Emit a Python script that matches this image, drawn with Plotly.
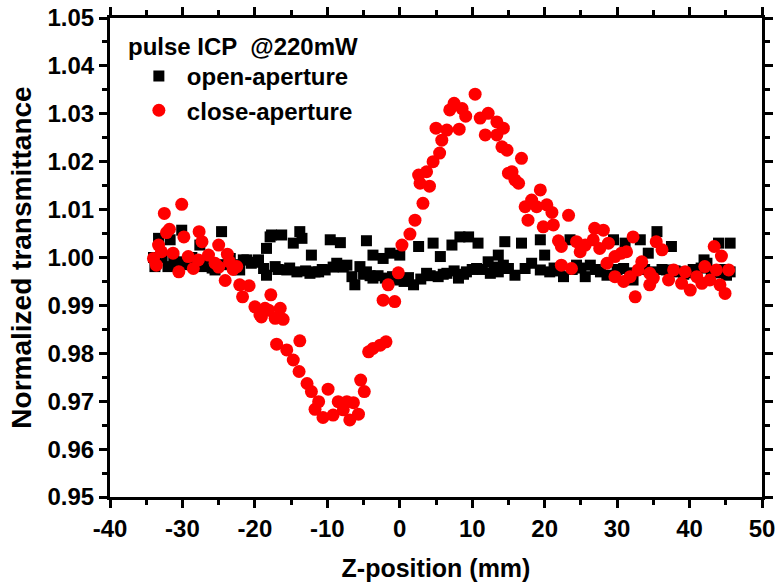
import plotly.graph_objects as go

# open-aperture (black squares)
open_z = [-34.0, -33.8, -33.3, -32.8, -32.0, -31.7, -31.2, -30.6, -30.1, -29.9, -29.3, -28.7,
          -28.2, -27.6, -27.1, -26.5, -25.9, -25.5, -24.6, -24.2, -23.4, -22.8, -22.1, -21.6,
          -21.1, -20.5, -19.9, -19.5, -18.8, -18.4, -18.4, -17.9, -17.7, -17.2, -16.8, -16.3,
          -15.6, -15.2, -14.7, -14.2, -13.8, -13.5, -13.0, -12.4, -12.2, -11.7, -11.2, -10.7,
          -10.3, -9.6, -9.2, -8.7, -8.2, -7.8, -7.3, -6.6, -6.2, -5.5, -5.0, -4.6, -4.6, -4.1,
          -3.7, -3.7, -3.0, -2.3, -2.0, -1.35, -1.0, -0.5, 0.0, 0.0, 0.6, 1.2, 1.9, 2.6, 2.9,
          3.7, 4.2, 4.6, 5.3, 5.6, 6.0, 6.5, 7.2, 7.5, 8.1, 8.3, 8.8, 9.2, 9.5, 10.0, 10.6, 10.8,
          11.4, 12.2, 12.5, 13.0, 13.6, 13.6, 14.3, 14.5, 15.0, 15.9, 16.8, 17.3, 18.2, 19.4,
          19.4, 20.0, 20.7, 21.3, 22.0, 22.6, 23.5, 23.8, 24.4, 25.0, 25.6, 26.3, 27.0, 27.7,
          28.6, 29.5, 30.0, 30.9, 31.1, 31.8, 32.2, 33.2, 33.8, 34.3, 35.0, 35.5, 36.2, 36.8,
          37.5, 38.0, 38.5, 39.2, 40.0, 40.5, 41.0, 41.6, 42.0, 42.4, 43.0, 43.6, 44.0, 44.5,
          45.1, 45.6, 45.6]
open_t = [1.0000, 0.9981, 1.0040, 1.0000, 0.9981, 1.0037, 0.9995, 0.9985, 1.0057, 0.9991, 0.9985, 1.0000,
          0.9990, 1.0026, 0.9981, 0.9988, 0.9978, 0.9974, 1.0054, 0.9985, 0.9998, 0.9985, 0.9974, 0.9995,
          0.9995, 0.9988, 0.9990, 0.9995, 0.9977, 1.0019, 0.9963, 1.0043, 1.0047, 0.9981, 0.9975, 1.0047,
          0.9974, 0.9978, 1.0030, 0.9970, 1.0054, 1.0040, 0.9972, 0.9967, 1.0005, 0.9970, 0.9970, 0.9975,
          0.9974, 1.0037, 0.9980, 0.9988, 1.0031, 0.9980, 0.9984, 0.9960, 0.9943, 0.9981, 0.9965, 1.0035, 0.9970, 0.9962,
          1.0005, 0.9957, 0.9962, 0.9998, 0.9957, 1.0009, 0.9960, 0.9955, 1.0005, 0.9953, 0.9950, 0.9958, 0.9943, 1.0023, 0.9955,
          0.9967, 0.9962, 1.0030, 0.9960, 1.0002, 0.9965, 0.9967, 1.0026, 0.9972, 0.9957, 1.0043, 0.9965, 0.9970, 1.0043, 0.9975, 0.9977, 1.0030,
          0.9975, 0.9991, 0.9967, 0.9980, 1.0005, 0.9970, 0.9984, 1.0033, 0.9977, 0.9963, 1.0030, 0.9977, 0.9988, 1.0037,
          0.9974, 1.0005, 0.9970, 0.9978, 0.9972, 0.9960, 1.0037, 0.9975, 0.9984, 0.9978, 0.9960, 0.9984, 0.9975, 0.9970,
          0.9963, 1.0037, 0.9975, 0.9977, 1.0030, 0.9968, 0.9953, 1.0037, 0.9975, 1.0009, 0.9970, 1.0054, 0.9975, 0.9974,
          1.0023, 0.9972, 0.9970, 0.9965, 0.9968, 0.9975, 0.9970, 0.9978, 0.9995, 0.9988, 0.9972, 0.9968, 1.0030, 0.9975,
          0.9963, 1.0030, 0.9970]

# close-aperture (red circles)
close_z = [-34.0, -33.6, -33.3, -32.9, -32.5, -32.2, -31.8, -31.3, -30.5, -30.1, -29.8, -29.2,
           -28.5, -27.8, -27.7, -27.3, -26.4, -25.5, -25.0, -25.0, -24.1, -23.8, -23.5, -23.0,
           -22.5, -22.1, -21.7, -20.8, -20.0, -19.3, -19.1, -18.6, -18.1, -17.8, -17.2, -17.0,
           -16.5, -16.1, -15.6, -14.7, -13.9, -13.8, -12.8, -12.2, -11.7, -11.2, -10.6, -9.9,
           -9.2, -8.5, -7.8, -7.3, -6.9, -6.4, -5.7, -5.4, -4.9, -4.3, -3.7, -2.7, -2.3, -1.9,
           -1.6, -0.7, -0.2, 0.3, 1.4, 2.1, 2.6, 2.8, 3.2, 3.7, 4.1, 4.6, 5.0, 5.5, 5.8, 6.5,
           6.9, 7.5, 8.2, 8.6, 9.1, 10.4, 11.1, 11.8, 12.2, 13.4, 13.4, 14.1, 14.3, 14.8, 15.0,
           15.5, 15.9, 16.4, 16.8, 17.3, 17.7, 18.2, 18.9, 19.4, 19.8, 20.3, 21.0, 21.2, 21.9,
           22.3, 22.3, 23.3, 23.7, 24.4, 24.9, 25.6, 26.7, 26.9, 27.6, 28.1, 28.6, 28.8, 29.7,
           29.7, 30.6, 30.9, 31.3, 31.8, 32.2, 32.5, 32.9, 33.4, 34.5, 34.5, 35.0, 35.4, 36.2,
           37.1, 37.8, 38.9, 39.4, 40.1, 41.0, 41.7, 42.1, 42.8, 43.4, 43.7, 44.2, 44.4, 44.9, 45.4]
close_t = [0.9998, 0.9984, 1.0026, 1.0012, 1.0092, 1.0052, 1.0059, 1.0009, 0.9970, 1.0111, 1.0043, 1.0002,
           0.9977, 0.9995, 1.0054, 1.0033, 1.0005, 0.9988, 1.0026, 0.9980, 0.9952, 1.0007, 0.9991, 0.9975,
           0.9981, 0.9943, 0.9918, 0.9941, 0.9897, 0.9880, 0.9876, 0.9894, 0.9890, 0.9922, 0.9873, 0.9819,
           0.9894, 0.9871, 0.9807, 0.9786, 0.9762, 0.9826, 0.9737, 0.9720, 0.9683, 0.9699, 0.9666, 0.9725,
           0.9671, 0.9699, 0.9682, 0.9699, 0.9661, 0.9697, 0.9673, 0.9744, 0.9720, 0.9803, 0.9810, 0.9817, 0.9911, 0.9824,
           0.9943, 0.9908, 0.9968, 1.0026, 1.0049, 1.0078, 1.0172, 1.0155, 1.0113, 1.0179, 1.0149, 1.0200, 1.0270, 1.0218, 1.0245, 1.0266,
           1.0308, 1.0322, 1.0268, 1.0311, 1.0295, 1.0341, 1.0291, 1.0256, 1.0301, 1.0283, 1.0256, 1.0231, 1.0270, 1.0224, 1.0176,
           1.0179, 1.0162, 1.0155, 1.0207, 1.0106, 1.0078, 1.0120, 1.0106, 1.0141, 1.0064, 1.0110, 1.0094, 1.0068, 1.0035,
           1.0023, 0.9984, 1.0088, 0.9977, 1.0033, 1.0012, 1.0026, 1.0037, 1.0061, 1.0019, 1.0057, 0.9988, 1.0030, 1.0002,
           0.9960, 1.0009, 0.9950, 1.0012, 0.9960, 1.0043, 0.9918, 0.9974, 0.9991, 0.9967, 0.9943, 0.9957, 1.0033, 1.0016,
           0.9953, 0.9974, 0.9946, 0.9970, 0.9932, 0.9960, 0.9946, 0.9981, 0.9953, 1.0023, 0.9974, 0.9943, 1.0003, 0.9925, 0.9974]

x_ticks = [-40, -30, -20, -10, 0, 10, 20, 30, 40, 50]
y_ticks = [0.95, 0.96, 0.97, 0.98, 0.99, 1.00, 1.01, 1.02, 1.03, 1.04, 1.05]

FONT = "Liberation Sans, Arial, sans-serif"

fig = go.Figure()
fig.add_trace(go.Scatter(
    x=open_z, y=open_t, mode="markers", name="open-aperture",
    marker=dict(symbol="square", size=11, color="black", line=dict(width=0)),
))
fig.add_trace(go.Scatter(
    x=close_z, y=close_t, mode="markers", name="close-aperture",
    marker=dict(symbol="circle", size=13, color="#ff0000", line=dict(width=0)),
))

axis_common = dict(
    showline=True, linecolor="black", linewidth=3, mirror="ticks",
    ticks="outside", ticklen=8, tickwidth=2.5, tickcolor="black",
    showgrid=False, zeroline=False, automargin=False,
    tickfont=dict(family=FONT, size=24, color="black", weight="bold"),
)

fig.update_xaxes(
    range=[-40, 50], tickvals=x_ticks, ticktext=[str(v) for v in x_ticks],
    minor=dict(dtick=5, tick0=0, ticks="outside", ticklen=5, tickwidth=2.5, tickcolor="black"),
    title=dict(text="Z-position (mm)", font=dict(family=FONT, size=25, color="black", weight="bold"), standoff=22),
    **axis_common,
)
fig.update_yaxes(
    range=[0.95, 1.05], tickvals=y_ticks, ticktext=[f"{v:.2f}" for v in y_ticks],
    minor=dict(dtick=0.005, tick0=0.95, ticks="outside", ticklen=5, tickwidth=2.5, tickcolor="black"),
    title=dict(text="Normalized transmittance", font=dict(family=FONT, size=28, color="black", weight="bold"), standoff=8),
    **axis_common,
)

fig.add_annotation(
    xref="paper", yref="paper", x=0.024, y=0.94, xanchor="left", yanchor="middle",
    text="pulse ICP  @220mW", showarrow=False,
    font=dict(family=FONT, size=24, color="black", weight="bold"),
)

fig.update_layout(
    width=777, height=582,
    margin=dict(l=110, r=15, t=18, b=85, autoexpand=False),
    paper_bgcolor="white", plot_bgcolor="white",
    showlegend=True,
    legend=dict(
        x=0.032, y=0.925, xanchor="left", yanchor="top",
        bgcolor="rgba(0,0,0,0)", borderwidth=0,
        font=dict(family=FONT, size=24, color="black", weight="bold"),
        itemwidth=46, tracegroupgap=0,
    ),
)

fig.write_html("out.html")
